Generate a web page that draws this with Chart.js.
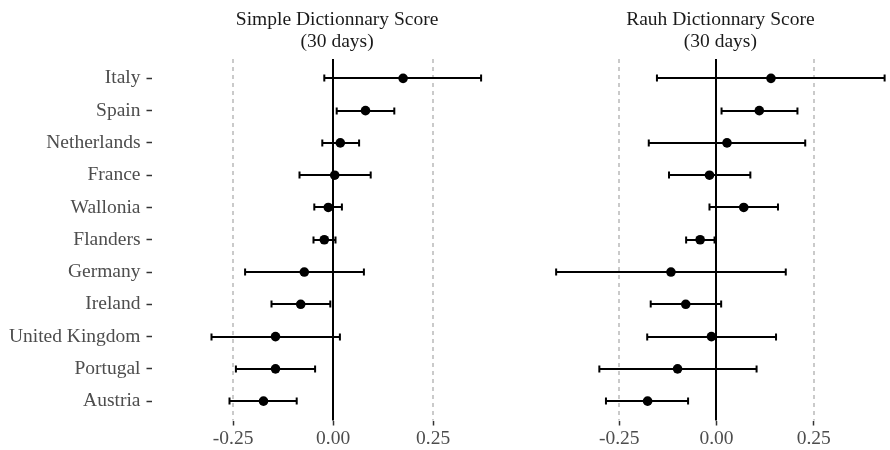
<!DOCTYPE html>
<html>
<head>
<meta charset="utf-8">
<script src="https://cdn.jsdelivr.net/npm/chart.js@4"></script>
<style>
html, body { margin: 0; padding: 0; background: #fff; overflow: hidden; }
#wrap { position: relative; width: 890px; height: 450px; }
canvas { position: absolute; top: 0; }
#simple { left: 0; }
#rauh { left: 535px; }
</style>
</head>
<body>
<div id="wrap">
  <canvas id="simple" width="530" height="450"></canvas>
  <canvas id="rauh" width="355" height="450"></canvas>
</div>
<script>
const countries = ["Italy", "Spain", "Netherlands", "France", "Wallonia", "Flanders",
                   "Germany", "Ireland", "United Kingdom", "Portugal", "Austria"];

// simple dictionnary score, 30 days
const simpleEst  = [0.175, 0.081, 0.018, 0.004, -0.012, -0.022, -0.072, -0.081, -0.144, -0.144, -0.174];
const simpleLow  = [-0.022, 0.009, -0.027, -0.084, -0.047, -0.049, -0.220, -0.154, -0.304, -0.243, -0.259];
const simpleHigh = [0.370, 0.153, 0.065, 0.094, 0.022, 0.006, 0.077, -0.007, 0.017, -0.045, -0.091];

// rauh dictionnary score, 30 days
const rauhEst  = [0.140, 0.110, 0.027, -0.018, 0.070, -0.042, -0.117, -0.079, -0.013, -0.100, -0.177];
const rauhLow  = [-0.153, 0.013, -0.174, -0.122, -0.018, -0.078, -0.412, -0.169, -0.178, -0.301, -0.284];
const rauhHigh = [0.432, 0.208, 0.228, 0.087, 0.158, -0.005, 0.178, 0.012, 0.153, 0.103, -0.073];

const refLines = [-0.25, 0, 0.25];
const xTicks = [-0.25, 0, 0.25];

// shared x limits of both panels (right one is cut by the picture edge)
const xLo = -0.454, xHi = 0.474;

const serif = '"Liberation Serif", "Times New Roman", serif';

function makePanel(id, titleLines, est, low, high, showY, xMax, padLeft, padRight) {
    const points = est.map((v, i) => ({ x: v, y: i }));

    const extras = {
        id: "extras_" + id,
        beforeDatasetsDraw(chart) {
            const ctx = chart.ctx, xs = chart.scales.x, ys = chart.scales.y, area = chart.chartArea;
            ctx.save();
            refLines.forEach(v => {
                const px = Math.round(xs.getPixelForValue(v));
                ctx.beginPath();
                ctx.setLineDash(v === 0 ? [] : [4, 4]);
                ctx.strokeStyle = v === 0 ? "#000" : "#bdbdbd";
                ctx.lineWidth = v === 0 ? 2 : 1.6;
                ctx.moveTo(px, area.top);
                ctx.lineTo(px, area.bottom);
                ctx.stroke();
            });
            ctx.setLineDash([]);
            ctx.strokeStyle = "#000";
            ctx.lineWidth = 2;
            low.forEach((lo, i) => {
                const y = Math.round(ys.getPixelForValue(i));
                const x1 = xs.getPixelForValue(lo), x2 = xs.getPixelForValue(high[i]);
                ctx.beginPath();
                ctx.moveTo(x1, y); ctx.lineTo(x2, y);
                ctx.moveTo(x1, y - 3.5); ctx.lineTo(x1, y + 3.5);
                ctx.moveTo(x2, y - 3.5); ctx.lineTo(x2, y + 3.5);
                ctx.stroke();
            });
            ctx.restore();
        },
        afterDraw(chart) {
            const ctx = chart.ctx;
            const cx = chart.scales.x.getPixelForValue((xLo + xHi) / 2);
            ctx.save();
            ctx.font = "19.5px " + serif;
            ctx.fillStyle = "#1a1a1a";
            ctx.textAlign = "center";
            ctx.textBaseline = "middle";
            titleLines.forEach((t, i) => ctx.fillText(t, cx, 20 + i * 21.5));
            ctx.restore();
        }
    };

    return new Chart(document.getElementById(id), {
        type: "scatter",
        data: {
            datasets: [{
                data: points,
                backgroundColor: "#000",
                borderWidth: 0,
                pointRadius: 4.8,
                pointHoverRadius: 4.8
            }]
        },
        options: {
            responsive: false,
            animation: false,
            layout: { padding: { top: 59, left: padLeft, right: padRight, bottom: 0 } },
            plugins: { legend: { display: false }, tooltip: { enabled: false } },
            scales: {
                x: {
                    type: "linear",
                    min: xLo,
                    max: xMax,
                    afterBuildTicks: s => { s.ticks = xTicks.map(v => ({ value: v })); },
                    afterFit: s => { s.height = 29.5; },
                    grid: { drawOnChartArea: false, drawTicks: true, tickLength: 5, tickColor: "#333", tickWidth: 1.5 },
                    border: { display: false },
                    ticks: {
                        font: { family: serif, size: 19.5 },
                        color: "#4d4d4d",
                        padding: 2,
                        maxRotation: 0,
                        autoSkip: false,
                        callback: v => v.toFixed(2)
                    }
                },
                y: {
                    type: "linear",
                    reverse: true,
                    min: -0.6,
                    max: 10.6,
                    display: showY,
                    afterBuildTicks: s => { s.ticks = countries.map((c, i) => ({ value: i })); },
                    afterFit: s => { s.width = showY ? 151.5 : 0; },
                    grid: { drawOnChartArea: false, drawTicks: true, tickLength: 5, tickColor: "#333", tickWidth: 1.5 },
                    border: { display: false },
                    ticks: {
                        font: { family: serif, size: 19.5 },
                        color: "#4d4d4d",
                        padding: 6,
                        autoSkip: false,
                        callback: v => countries[v]
                    }
                }
            }
        },
        plugins: [extras]
    });
}

makePanel("simple", ["Simple Dictionnary Score", "(30 days)"],
          simpleEst, simpleLow, simpleHigh, true, xHi, 0, 7.3);
makePanel("rauh", ["Rauh Dictionnary Score", "(30 days)"],
          rauhEst, rauhLow, rauhHigh, false, 0.4335, 0, 0);
</script>
</body>
</html>
